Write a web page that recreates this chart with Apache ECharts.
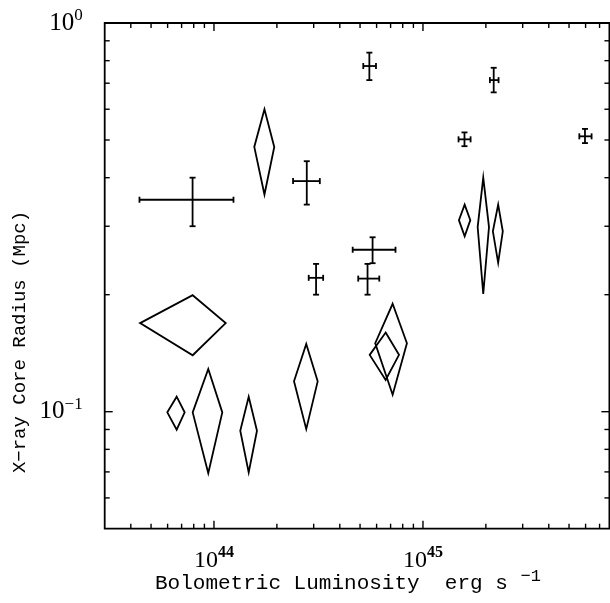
<!DOCTYPE html>
<html><head><meta charset="utf-8">
<script src="https://cdn.jsdelivr.net/npm/echarts@6/dist/echarts.min.js"></script>
<style>html,body{margin:0;padding:0;background:#fff}#c{width:610px;height:603px}</style>
</head><body><div id="c"></div>
<script>
// Axis ranges
const X_MIN = 3e43, X_MAX = 7.8e45;
const Y_MIN = 0.05, Y_MAX = 1;

// Tick labels (exponents of 10)
const xLabelExps = [44, 45];
const yLabelExps = [0, -1];

// Tick positions
const xMajorTicks = [1e44, 1e45];
const xMinorTicks = [4e43, 5e43, 6e43, 7e43, 8e43, 9e43,
  2e44, 3e44, 4e44, 5e44, 6e44, 7e44, 8e44, 9e44,
  2e45, 3e45, 4e45, 5e45, 6e45, 7e45];
const yMajorTicks = [0.1, 1];
const yMinorTicks = [0.06, 0.07, 0.08, 0.09, 0.2, 0.3, 0.4, 0.5, 0.6, 0.7, 0.8, 0.9];

// Error-bar crosses: luminosity (erg/s) with range, core radius (Mpc) with range
const crossL   = [7.9e43, 2.78e44, 3.08e44, 5.54e44, 2.18e45, 1.58e45, 5.96e45, 5.74e44, 5.43e44];
const crossLlo = [4.4e43, 2.39e44, 2.84e44, 5.18e44, 2.09e45, 1.48e45, 5.6e45, 4.61e44, 4.9e44];
const crossLhi = [1.24e44, 3.21e44, 3.33e44, 5.96e44, 2.30e45, 1.69e45, 6.41e45, 7.39e44, 6.18e44];
const crossR   = [0.351, 0.392, 0.221, 0.775, 0.713, 0.502, 0.511, 0.261, 0.220];
const crossRlo = [0.300, 0.341, 0.200, 0.713, 0.663, 0.482, 0.491, 0.241, 0.200];
const crossRhi = [0.400, 0.441, 0.240, 0.839, 0.767, 0.523, 0.534, 0.281, 0.240];

// Diamonds: centre and ranges
const diaL   = [1.744e44, 7.91e43, 6.63e43, 9.39e43, 1.466e44, 2.764e44, 7.16e44, 6.63e44, 1.583e45, 1.943e45, 2.29e45];
const diaLlo = [1.559e44, 4.43e43, 5.98e43, 7.91e43, 1.336e44, 2.415e44, 5.91e44, 5.56e44, 1.486e45, 1.827e45, 2.16e45];
const diaLhi = [1.943e44, 1.138e44, 7.24e43, 1.096e44, 1.606e44, 3.135e44, 8.38e44, 7.68e44, 1.685e45, 2.07e45, 2.41e45];
const diaR   = [0.480, 0.169, 0.0996, 0.0996, 0.0893, 0.1197, 0.150, 0.140, 0.311, 0.2985, 0.291];
const diaRlo = [0.362, 0.1397, 0.0899, 0.0695, 0.0698, 0.0902, 0.1106, 0.1207, 0.2825, 0.201, 0.2416];
const diaRhi = [0.600, 0.1994, 0.1093, 0.1288, 0.1093, 0.1494, 0.1895, 0.1598, 0.3409, 0.400, 0.3409];

const LW = 1.8;
const SERIF = '"Liberation Serif", "DejaVu Serif", serif';
const MONO = '"Liberation Mono", "DejaVu Sans Mono", monospace';

const crossData = crossL.map((v, i) => [v, crossLlo[i], crossLhi[i], crossR[i], crossRlo[i], crossRhi[i]]);
const diaData = diaL.map((v, i) => [v, diaLlo[i], diaLhi[i], diaR[i], diaRlo[i], diaRhi[i]]);

// tick data: [x, y, length, dir] dir 0=bottom,1=top,2=left,3=right
const tickData = [];
xMajorTicks.forEach(v => { tickData.push([v, Y_MIN, 8, 0]); tickData.push([v, Y_MAX, 8, 1]); });
xMinorTicks.forEach(v => { tickData.push([v, Y_MIN, 5, 0]); tickData.push([v, Y_MAX, 5, 1]); });
yMajorTicks.forEach(v => { tickData.push([X_MIN, v, 8, 2]); tickData.push([X_MAX, v, 8, 3]); });
yMinorTicks.forEach(v => { tickData.push([X_MIN, v, 5, 2]); tickData.push([X_MAX, v, 5, 3]); });

function seg(a, b, w) {
  return { type: 'line', shape: { x1: a[0], y1: a[1], x2: b[0], y2: b[1] },
    style: { stroke: '#000', lineWidth: w || LW } };
}

function labelFormatter(exps) {
  return function (v) {
    const lg = Math.log10(v);
    const e = Math.round(lg);
    if (Math.abs(lg - e) > 1e-6 || exps.indexOf(e) < 0) return '';
    return '{b|10}{s|' + (e < 0 ? '\u2212' + (-e) : e) + '}';
  };
}

const chart = echarts.init(document.getElementById('c'), null, { renderer: 'canvas' });
chart.setOption({
  animation: false,
  backgroundColor: '#fff',
  grid: { left: 104.7, right: 0.6, top: 23, bottom: 74.3, show: true,
    borderColor: '#000', borderWidth: 1.8, containLabel: false, outerBoundsMode: 'none' },
  xAxis: {
    type: 'log', logBase: 10, min: X_MIN, max: X_MAX,
    axisLine: { show: false }, axisTick: { show: false }, splitLine: { show: false },
    axisLabel: {
      formatter: labelFormatter(xLabelExps), showMinLabel: false, showMaxLabel: false, margin: 16,
      rich: {
        b: { fontFamily: SERIF, fontSize: 24, lineHeight: 32, color: '#000' },
        s: { fontFamily: SERIF, fontSize: 16, fontWeight: 'bold', lineHeight: 16, verticalAlign: 'top', color: '#000' }
      }
    }
  },
  yAxis: {
    type: 'log', logBase: 10, min: Y_MIN, max: Y_MAX,
    axisLine: { show: false }, axisTick: { show: false }, splitLine: { show: false },
    axisLabel: {
      formatter: labelFormatter(yLabelExps), showMinLabel: false, showMaxLabel: true, margin: 22,
      rich: {
        b: { fontFamily: SERIF, fontSize: 25, lineHeight: 32, color: '#000' },
        s: { fontFamily: SERIF, fontSize: 17, lineHeight: 16, verticalAlign: 'top', color: '#000' }
      }
    }
  },
  graphic: [
    { type: 'text', x: 155, y: 583,
      style: { text: '{t|Bolometric Luminosity  erg s }{s|\u22121}', textAlign: 'left', textVerticalAlign: 'middle',
        rich: { t: { fontFamily: MONO, fontSize: 21, lineHeight: 30, fill: '#000' },
                s: { fontFamily: MONO, fontSize: 17, lineHeight: 18, verticalAlign: 'top', fill: '#000' } } } },
    { type: 'text', x: 20, y: 342, rotation: Math.PI / 2,
      style: { text: 'X\u2212ray Core Radius (Mpc)', textAlign: 'center', textVerticalAlign: 'middle',
        font: '19px ' + MONO, fill: '#000' } }
  ],
  series: [
    {
      type: 'custom', name: 'ticks', clip: false, silent: true, data: tickData,
      renderItem: function (params, api) {
        const p = api.coord([api.value(0), api.value(1)]);
        const len = api.value(2), dir = api.value(3);
        let q;
        if (dir === 0) q = [p[0], p[1] - len];
        else if (dir === 1) q = [p[0], p[1] + len];
        else if (dir === 2) q = [p[0] + len, p[1]];
        else q = [p[0] - len, p[1]];
        return seg(p, q, 1.4);
      }
    },
    {
      type: 'custom', name: 'crosses', clip: false, data: crossData,
      encode: { x: [0, 1, 2], y: [3, 4, 5] },
      renderItem: function (params, api) {
        const x = api.value(0), xl = api.value(1), xh = api.value(2);
        const y = api.value(3), yl = api.value(4), yh = api.value(5);
        const l = api.coord([xl, y]), r = api.coord([xh, y]);
        const t = api.coord([x, yh]), b = api.coord([x, yl]);
        const cap = 3;
        return { type: 'group', children: [
          seg(l, r), seg(t, b),
          seg([l[0], l[1] - cap], [l[0], l[1] + cap]),
          seg([r[0], r[1] - cap], [r[0], r[1] + cap]),
          seg([t[0] - cap, t[1]], [t[0] + cap, t[1]]),
          seg([b[0] - cap, b[1]], [b[0] + cap, b[1]])
        ] };
      }
    },
    {
      type: 'custom', name: 'diamonds', clip: false, data: diaData,
      encode: { x: [0, 1, 2], y: [3, 4, 5] },
      renderItem: function (params, api) {
        const x = api.value(0), xl = api.value(1), xh = api.value(2);
        const y = api.value(3), yl = api.value(4), yh = api.value(5);
        const l = api.coord([xl, y]), r = api.coord([xh, y]);
        const t = api.coord([x, yh]), b = api.coord([x, yl]);
        return { type: 'polygon', shape: { points: [t, r, b, l] },
          style: { fill: null, stroke: '#000', lineWidth: LW, lineJoin: 'miter' } };
      }
    }
  ]
});
</script>
</body></html>
